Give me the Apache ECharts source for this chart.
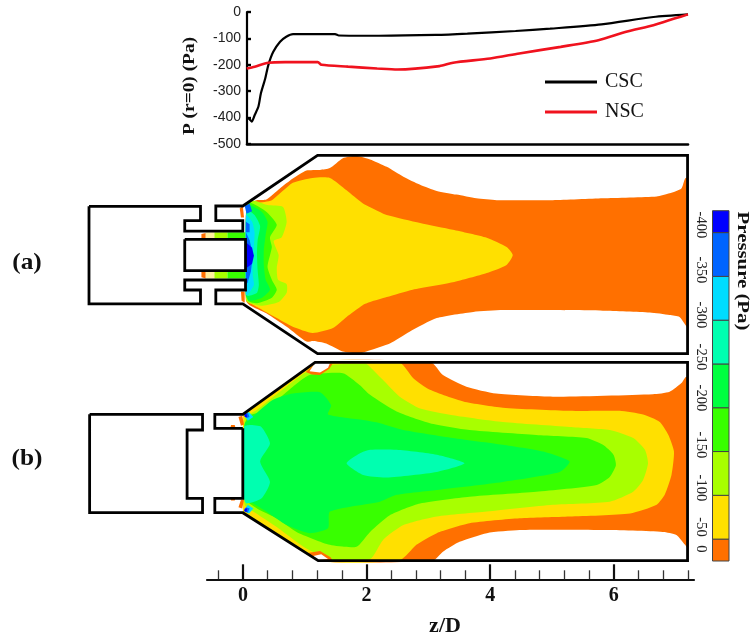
<!DOCTYPE html>
<html><head><meta charset="utf-8">
<style>html,body{margin:0;padding:0;background:#fff}#c{width:752px;height:640px}</style>
<script src="https://cdn.jsdelivr.net/npm/echarts@6/dist/echarts.min.js"></script>
</head><body><div id="c"></div>
<script>
// ---------- centre-line pressure (z/D, Pa)
const cscLine = [[0.06,-400],[0.1,-405],[0.14,-415],[0.19,-390],[0.25,-358],[0.29,-308],[0.36,-252],[0.41,-201],[0.49,-151],[0.6,-113],[0.7,-94],[0.81,-84],[1.05,-84],[1.49,-84],[1.55,-89],[2.2,-90],[3.12,-87],[3.63,-82],[4.41,-72],[4.97,-63],[5.8,-47],[6.64,-19],[7.2,-9]];
const nscLine = [[0.06,-214],[0.19,-207],[0.41,-192],[0.68,-190],[1.21,-190],[1.27,-200],[1.7,-207],[2.17,-214],[2.5,-218],[3.18,-205],[3.4,-192],[4.0,-176],[4.47,-157],[5.14,-132],[5.75,-107],[6.2,-75],[6.64,-50],[6.98,-25],[7.2,-9]];
const pressureTicks = [0,-100,-200,-300,-400,-500];
const majorTicks = [0,2,4,6];
const minorTicks = [-0.4,0.4,0.8,1.2,1.6,2.4,2.8,3.2,3.6,4.4,4.8,5.2,5.6,6.4,6.8,7.2];
const legendNames = ['CSC','NSC'];
const legendLabels = ['-400','-350','-300','-250','-200','-150','-100','-50','0'];
const legendLevels = [25,0,-50,-100,-150,-200,-250,-300,-350,-375];

// ---------- geometry (z/D, r/D)
const wallA1 = [[-2.49,.78],[-.685,.78],[-.685,.55],[-.94,.55],[-.94,.38],[0,.38],[0,.55],[-.437,.55],[-.437,.785],[0,.785],[1.21,1.605],[7.2,1.605],[7.2,-1.605],[1.21,-1.605],[0,-.8],[-.437,-.8],[-.437,-.575],[.044,-.575],[.044,-.413],[-.94,-.413],[-.94,-.575],[-.685,-.575],[-.685,-.8],[-2.49,-.8],[-2.49,.78]];
const wallA2 = [[-.94,.246],[.044,.246],[.044,-.262],[-.94,-.262],[-.94,.246]];
const wallB1 = [[-2.48,.764],[-.652,.764],[-.652,.51],[-.902,.51],[-.902,-.596],[-.652,-.596],[-.652,-.829],[-2.48,-.829],[-2.48,.764]];
const wallB2 = [[0,.537],[-.453,.537],[-.453,.764],[0,.764],[1.17,1.606],[7.2,1.606],[7.2,-1.606],[1.22,-1.606],[0,-.829],[-.453,-.829],[-.453,-.596],[0,-.596],[0,.537]];
// blank areas outside the chamber
const aMasks = [[[0,.785],[1.21,1.605],[7.3,1.605],[7.3,1.65],[-.45,1.65],[-.45,.785]],[[0,-.8],[1.21,-1.605],[7.3,-1.605],[7.3,-1.65],[-.45,-1.65],[-.45,-.8]],[[-.45,.79],[.03,.79],[.03,-.8],[-.45,-.8]],[[7.2,1.65],[7.3,1.65],[7.3,-1.65],[7.2,-1.65]]];
const bMasks = [[[0,.764],[1.17,1.606],[7.3,1.606],[7.3,1.65],[-.45,1.65],[-.45,.764]],[[0,-.829],[1.22,-1.606],[7.3,-1.606],[7.3,-1.63],[-.45,-1.63],[-.45,-.829]],[[-.45,.77],[0,.77],[0,-.83],[-.45,-.83]],[[7.2,1.65],[7.3,1.65],[7.3,-1.63],[7.2,-1.63]]];

// ---------- contour bands, panel (a)
const aOrange = [[.06,.8],[.22,.88],[.38,.89],[.6,1.07],[.81,1.23],[1.03,1.36],[1.25,1.37],[1.41,1.4],[1.62,1.56],[1.83,1.6],[2.06,1.54],[2.33,1.42],[2.6,1.26],[2.87,1.13],[3.14,1.03],[3.46,.97],[3.78,.91],[4.11,.88],[5.02,.88],[5.83,.91],[6.7,.94],[6.91,.99],[7.1,1.07],[7.16,1.23],[7.2,1.25],[7.2,-1.17],[7.07,-1.01],[6.91,-.98],[6.59,-.94],[5.83,-.91],[4.75,-.9],[4.21,-.9],[3.73,-.93],[3.14,-1.03],[2.7,-1.25],[2.38,-1.44],[2.06,-1.55],[1.89,-1.6],[1.62,-1.57],[1.35,-1.44],[1.14,-1.4],[1.03,-1.41],[.71,-1.17],[.38,-.95],[.11,-.82],[.05,-.74]];
const aYellow = [[.06,.72],[.23,.83],[.47,.88],[.81,1.16],[1.13,1.24],[1.41,1.24],[1.68,1.04],[1.94,.83],[2.22,.69],[2.33,.64],[2.87,.51],[3.4,.4],[3.95,.27],[4.27,.12],[4.37,-.01],[4.27,-.17],[3.95,-.3],[3.4,-.45],[2.75,-.57],[2.33,-.69],[2.06,-.77],[1.94,-.82],[1.68,-1.01],[1.46,-1.19],[1.13,-1.27],[.81,-1.17],[.55,-1.03],[.23,-.85],[.11,-.78],[.06,-.74]];
const aYellowGreen = [[.06,.8],[.18,.87],[.4,.8],[.65,.77],[.71,.53],[.63,.28],[.5,.22],[.58,-.01],[.55,-.22],[.57,-.41],[.71,-.48],[.71,-.62],[.58,-.77],[.32,-.83],[.11,-.79],[.05,-.74]];
const aGreen = [[.1,.83],[.37,.7],[.55,.48],[.44,.28],[.47,.12],[.4,-.2],[.47,-.41],[.55,-.57],[.47,-.7],[.23,-.79],[.08,-.74],[.05,0]];
const aSpring = [[.08,.8],[.31,.69],[.4,.53],[.37,.32],[.34,.07],[.34,-.17],[.37,-.41],[.44,-.57],[.31,-.7],[.11,-.75],[.05,-.67],[.05,.3]];
const aTeal = [[.06,.72],[.19,.64],[.28,.46],[.24,.23],[.23,0],[.24,-.25],[.26,-.49],[.23,-.62],[.08,-.67],[.05,-.57]];
const aCyan = [[.05,.64],[.15,.53],[.19,.36],[.18,.15],[.16,-.09],[.16,-.33],[.18,-.49],[.11,-.61],[.05,-.66]];
const aBlue = [[.05,.36],[.11,.23],[.15,.07],[.15,-.12],[.13,-.28],[.08,-.45],[.05,-.49]];
const aNavy = [[.06,.19],[.15,.11],[.18,-.02],[.15,-.15],[.06,-.22]];
const aSpot1 = [[.03,.79],[.11,.82],[.15,.7],[.06,.66]];
const aSpot2 = [[.05,.53],[.11,.49],[.11,.36],[.05,.36]];
const aLipTop = [[-.05,.75],[0,.78],[.02,.6],[-.03,.6]];
const aLipBot = [[-.03,-.6],[.03,-.6],[.03,-.78],[-.02,-.75]];
const aStripTop = [[[-.67,.26],[-.6,.26],[-.6,.35],[-.67,.33]],[[-.6,.26],[-.46,.26],[-.46,.36],[-.6,.36]],[[-.46,.26],[-.25,.26],[-.25,.36],[-.46,.36]],[[-.25,.26],[.04,.26],[.04,.36],[-.25,.36]]];
const aStripBot = [[[-.67,-.28],[-.6,-.28],[-.6,-.39],[-.67,-.37]],[[-.6,-.28],[-.46,-.28],[-.46,-.39],[-.6,-.39]],[[-.46,-.28],[-.25,-.28],[-.25,-.39],[-.46,-.39]],[[-.25,-.28],[.04,-.28],[.04,-.39],[-.25,-.39]]];

// ---------- contour bands, panel (b)
const bOrange = [[.01,.76],[1.17,1.6],[3.05,1.6],[3.24,1.4],[3.62,1.21],[4.1,1.1],[5.02,1.05],[6.64,1.09],[6.91,1.13],[7.1,1.27],[7.17,1.37],[7.2,1.37],[7.2,-1.4],[7.16,-1.35],[7.02,-1.19],[6.8,-1.14],[5.83,-1.11],[4.48,-1.11],[3.95,-1.16],[3.51,-1.3],[3.24,-1.46],[3.08,-1.6],[1.22,-1.6],[.01,-.82]];
const bYellow = [[.01,.76],[1.17,1.6],[2.54,1.6],[2.76,1.35],[3.03,1.16],[3.57,.97],[4.21,.87],[5.29,.82],[6.1,.82],[6.48,.76],[6.75,.64],[6.89,.43],[6.98,.16],[6.94,-.22],[6.83,-.54],[6.7,-.7],[6.27,-.84],[5.29,-.89],[4.48,-.92],[3.67,-1.0],[3.14,-1.16],[2.81,-1.35],[2.54,-1.6],[1.22,-1.6],[.01,-.82]];
const bYellowGreen = [[.03,.7],[.22,.83],[.6,1.13],[1.03,1.45],[1.41,1.56],[2.0,1.58],[2.06,1.53],[2.27,1.32],[2.54,1.05],[2.87,.86],[3.4,.75],[4.21,.64],[5.29,.56],[5.94,.51],[6.32,.38],[6.51,.19],[6.56,-.03],[6.48,-.3],[6.32,-.49],[5.94,-.65],[5.02,-.7],[3.95,-.81],[3.14,-.89],[2.6,-1.03],[2.27,-1.27],[2.06,-1.58],[1.45,-1.59],[1.03,-1.41],[.55,-1.06],[.22,-.84],[.03,-.7]];
const bGreen = [[.03,.6],[.11,.75],[.33,.81],[.81,1.21],[1.08,1.4],[1.62,1.43],[1.89,1.24],[2.06,1.08],[2.49,.81],[3.03,.62],[3.67,.51],[4.75,.43],[5.56,.38],[5.83,.27],[6.0,.11],[6.04,-.06],[5.94,-.25],[5.73,-.38],[4.75,-.49],[3.67,-.57],[2.87,-.68],[2.38,-.87],[2.06,-1.14],[1.84,-1.38],[1.41,-1.35],[.87,-1.14],[.55,-.92],[.28,-.79],[.11,-.68],[.03,-.6]];
const bSpring = [[.03,.6],[.22,.78],[.49,1.0],[.81,1.1],[1.25,1.12],[1.43,.91],[1.38,.76],[1.95,.67],[2.22,.62],[2.6,.51],[3.4,.38],[4.21,.27],[4.86,.16],[5.29,0],[5.13,-.17],[4.21,-.33],[3.14,-.46],[2.49,-.54],[2.22,-.65],[1.41,-.81],[1.38,-1.08],[1.08,-1.16],[.71,-1.03],[.38,-.81],[.17,-.68],[.06,-.62],[.03,-.6]];
const bTealWall = [[.02,.56],[.11,.59],[.3,.56],[.44,.29],[.28,0],[.44,-.33],[.3,-.6],[.06,-.68],[.02,-.6]];
const bTealCore = [[1.68,-.03],[1.89,.13],[2.06,.19],[2.49,.19],[3.14,.11],[3.59,-.03],[3.14,-.17],[2.33,-.26],[1.95,-.22]];
const bCyanTop = [[.02,.76],[.1,.8],[.17,.72],[.08,.66]];
const bBlueTop = [[.03,.76],[.08,.79],[.11,.72],[.05,.7]];
const bNavyTop = [[.02,.76],[.06,.78],[.07,.72],[.03,.72]];
const bCyanBot = [[.02,-.8],[.1,-.84],[.17,-.76],[.08,-.7]];
const bBlueBot = [[.03,-.8],[.08,-.83],[.11,-.76],[.05,-.74]];
const bNavyBot = [[.02,-.8],[.06,-.82],[.07,-.76],[.03,-.76]];
const bLipTop = [[-.07,.72],[-.01,.74],[.02,.6],[-.03,.58]];
const bLipBot = [[-.07,-.74],[-.01,-.76],[.02,-.62],[-.03,-.62]];
const bDabTop = [[-.2,.55],[-.12,.55],[-.13,.59],[-.19,.59]];
const bDabBot = [[-.2,-.59],[-.12,-.59],[-.13,-.63],[-.19,-.63]];
const bRingTop = [[1.02,1.45],[1.12,1.41],[1.25,1.4],[1.4,1.5],[1.45,1.58],[1.2,1.61]];
const bHoleTop = [[1.08,1.46],[1.25,1.44],[1.38,1.52],[1.41,1.59],[1.17,1.6]];
const bRingBot = [[1.05,-1.48],[1.25,-1.45],[1.42,-1.55],[1.45,-1.6],[1.2,-1.6]];
const bHoleBot = [[1.14,-1.53],[1.27,-1.5],[1.38,-1.58],[1.22,-1.6]];

// ---------- styles
const ORANGE='#ff7000',YELLOW='#ffe000',YGREEN='#a8ff00',GREEN='#38ff00',SPRING='#00ff40',TEAL='#00ffb0',CYAN='#00dcff',BLUE='#0064ff',NAVY='#0000ff';
const legendColors=[ORANGE,YELLOW,YGREEN,GREEN,SPRING,TEAL,CYAN,BLUE,NAVY];
const stripColors=[ORANGE,'#fff0a0',YGREEN,GREEN];
const white=m=>['#fff',m];
const layersA=[[ORANGE,aOrange],[YELLOW,aYellow],[YGREEN,aYellowGreen],[GREEN,aGreen],[SPRING,aSpring],[TEAL,aTeal],[CYAN,aCyan],[BLUE,aBlue],[NAVY,aNavy]]
  .concat(aMasks.map(white),[[BLUE,aSpot1],[BLUE,aSpot2],[ORANGE,aLipTop],[ORANGE,aLipBot]],aStripTop.map((p,i)=>[stripColors[i],p]),aStripBot.map((p,i)=>[stripColors[i],p]));
const layersB=[[ORANGE,bOrange],[YELLOW,bYellow],[YGREEN,bYellowGreen],[GREEN,bGreen],[SPRING,bSpring],[TEAL,bTealWall],[TEAL,bTealCore]]
  .concat(bMasks.map(white),[[CYAN,bCyanTop],[BLUE,bBlueTop],[NAVY,bNavyTop],[CYAN,bCyanBot],[BLUE,bBlueBot],[NAVY,bNavyBot],[ORANGE,bLipTop],[ORANGE,bLipBot],[ORANGE,bDabTop],[ORANGE,bDabBot],[ORANGE,bRingTop],['#fff',bHoleTop],[ORANGE,bRingBot],['#fff',bHoleBot]]);

function bands(layers,ax){return{type:'custom',coordinateSystem:'cartesian2d',xAxisIndex:ax,yAxisIndex:ax,silent:true,clip:false,
  data:layers.map(l=>l[1][0]),encode:{x:0,y:1},
  renderItem:(p,api)=>{const l=layers[p.dataIndex];return{type:'polygon',shape:{points:l[1].map(q=>api.coord(q)),smooth:l[1].length>8?0.2:0},style:{fill:l[0]}};}};}
function walls(lines,ax){return{type:'custom',coordinateSystem:'cartesian2d',xAxisIndex:ax,yAxisIndex:ax,silent:true,clip:false,
  data:lines.map(l=>l[0]),encode:{x:0,y:1},
  renderItem:(p,api)=>({type:'polyline',shape:{points:lines[p.dataIndex].map(q=>api.coord(q))},style:{fill:null,stroke:'#000',lineWidth:2.8,lineJoin:'miter'}})};}
const hiddenX=(g,a,b,inv)=>({gridIndex:g,type:'value',min:a,max:b,show:false,inverse:!!inv});
const hiddenY=hiddenX;
const serif='"Liberation Serif"';

const labelY=[225,270,315,357,398,445,488,527,549];
const graphic=[
 {type:'text',x:27,y:263,scaleX:1.1,style:{text:'(a)',font:'bold 23px '+serif,fill:'#111',textAlign:'center',textVerticalAlign:'middle'}},
 {type:'text',x:27,y:459,scaleX:1.1,style:{text:'(b)',font:'bold 23px '+serif,fill:'#111',textAlign:'center',textVerticalAlign:'middle'}},
 {type:'text',x:445,y:626,style:{text:'z/D',font:'bold 22px '+serif,fill:'#111',textAlign:'center',textVerticalAlign:'middle'}},
 {type:'text',x:190,y:86,rotation:Math.PI/2,scaleX:1.14,style:{text:'P (r=0) (Pa)',font:'bold 17px '+serif,fill:'#111',textAlign:'center',textVerticalAlign:'middle'}},
 {type:'text',x:742,y:271,rotation:-Math.PI/2,scaleX:1.3,style:{text:'Pressure (Pa)',font:'bold 16px '+serif,fill:'#111',textAlign:'center',textVerticalAlign:'middle'}}
].concat(legendLabels.map((t,i)=>({type:'text',x:701,y:labelY[i],rotation:-Math.PI/2,scaleX:1.05,style:{text:t,font:'14px '+serif,fill:'#222',textAlign:'center',textVerticalAlign:'middle'}})));

const chart=echarts.init(document.getElementById('c'),null,{renderer:'canvas'});
chart.setOption({
 animation:false,backgroundColor:'#fff',
 grid:[
  {left:247,width:441,top:12,height:132},
  {left:89,width:600,top:152.6,height:203.8},
  {left:89,width:600,top:359.6,height:203.8},
  {left:207,width:487,top:560,height:19.3},
  {left:712.5,width:16.5,top:210.7,height:350.3}
 ],
 xAxis:[
  {gridIndex:0,type:'value',min:0.065,max:7.2,position:'bottom',axisLine:{onZero:false,lineStyle:{color:'#000',width:2.6}},axisTick:{show:false},axisLabel:{show:false},splitLine:{show:false}},
  hiddenX(1,-2.49,7.2234),
  hiddenX(2,-2.49,7.2234),
  {gridIndex:3,type:'value',min:-0.583,max:7.3,position:'bottom',axisLine:{onZero:false,lineStyle:{color:'#111',width:2.2}},
   axisTick:{inside:true,length:15,lineStyle:{color:'#111',width:2.2},customValues:majorTicks},
   axisLabel:{margin:7,customValues:majorTicks,fontFamily:serif,fontWeight:'bold',fontSize:20,color:'#111',showMinLabel:true,showMaxLabel:true},splitLine:{show:false}},
  {gridIndex:3,type:'value',min:-0.583,max:7.3,position:'bottom',axisLine:{show:false},
   axisTick:{inside:true,length:9,lineStyle:{color:'#333',width:1.3},customValues:minorTicks},
   axisLabel:{show:false},splitLine:{show:false}},
  hiddenX(4,0,1)
 ],
 yAxis:[
  {gridIndex:0,type:'value',min:-500,max:0,interval:100,position:'left',
   axisLine:{onZero:false,show:true,lineStyle:{color:'#000',width:2.2}},axisTick:{show:true,inside:true,length:4,lineStyle:{color:'#000',width:2.4}},
   axisLabel:{margin:6,fontFamily:'"Liberation Sans"',fontSize:14,color:'#222',customValues:pressureTicks},splitLine:{show:false}},
  hiddenY(1,-1.65,1.65),
  hiddenY(2,-1.65,1.65),
  hiddenY(3,0,1),
  hiddenY(4,-375,25,true)
 ],
 legend:{data:legendNames,orient:'vertical',left:540,top:67,itemWidth:52,itemHeight:3,itemGap:10,
  textStyle:{fontFamily:serif,fontSize:20,color:'#111',padding:[2,0,0,3]},icon:'rect',selectedMode:false},
 graphic:graphic,
 series:[
  bands(layersA,1),walls([wallA1,wallA2],1),
  bands(layersB,2),walls([wallB1,wallB2],2),
  {type:'custom',coordinateSystem:'cartesian2d',xAxisIndex:5,yAxisIndex:4,silent:true,
   data:legendColors.map((c,i)=>[0,legendLevels[i]]),encode:{x:0,y:1},
   renderItem:(p,api)=>{const i=p.dataIndex,a=api.coord([0,legendLevels[i]]),b=api.coord([1,legendLevels[i+1]]);
     return{type:'rect',shape:{x:a[0],y:b[1],width:b[0]-a[0],height:a[1]-b[1]},style:{fill:legendColors[i],stroke:'#444',lineWidth:1}};}},
  {name:'CSC',type:'line',xAxisIndex:0,yAxisIndex:0,data:cscLine,symbol:'none',smooth:0.25,lineStyle:{color:'#000',width:2.2},itemStyle:{color:'#000'},z:3},
  {name:'NSC',type:'line',xAxisIndex:0,yAxisIndex:0,data:nscLine,symbol:'none',smooth:0.25,lineStyle:{color:'#f0121e',width:2.6},itemStyle:{color:'#f0121e'},z:4}
 ]
});
</script></body></html>
